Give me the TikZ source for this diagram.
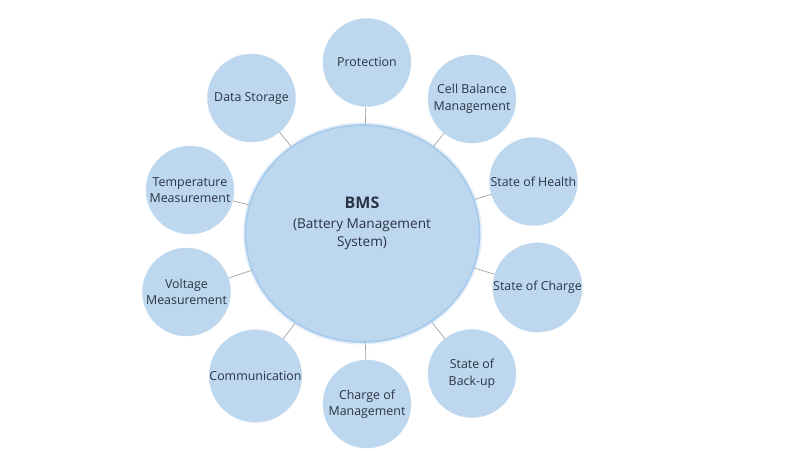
\documentclass[tikz,border=0pt]{standalone}
\usepackage{fontspec}
\setmainfont{Open Sans}
\usetikzlibrary{shapes.geometric}
\definecolor{fillblue}{HTML}{BDD7EE}
\definecolor{edgeblue}{HTML}{A6CAEC}
\definecolor{glowblue}{HTML}{E3EEF9}
\definecolor{txt}{HTML}{2B3445}
\definecolor{linegray}{HTML}{9A9A9A}
\tikzset{
  sat/.style={circle, fill=fillblue, draw=fillblue!90!white, line width=0.4pt, minimum size=88pt, inner sep=0pt,
    align=center, text=txt, font=\fontsize{12.4}{16.5}\selectfont},
  hub/.style={ellipse, fill=fillblue, draw=edgeblue, line width=1.6pt, minimum width=234pt, minimum height=217pt,
    inner sep=0pt, align=center, text=txt},
  link/.style={draw=linegray, line width=0.6pt}
}
\begin{document}
\begin{tikzpicture}[x=1pt,y=-1pt]
\useasboundingbox (0,0) rectangle (800,450);
\fill[white] (0,0) rectangle (800,450);
\fill[glowblue] (362.5,233.5) ellipse (119.5 and 111);
\node[hub] (c) at (362.5,233.5) {};
\node[text=txt, font=\fontsize{16}{18}\selectfont\bfseries] (t1) at (362,203) {BMS};
\node[text=txt, font=\fontsize{13.6}{18}\selectfont, align=center, anchor=north] (t2) at (362,215) {(Battery Management\\System)};
\node[sat] (p) at (367,62.5) {Protection};
\node[sat] (cb) at (472,99) {Cell Balance\\Management};
\node[sat] (sh) at (533.5,181.5) {State of Health};
\node[sat] (sc) at (537.5,287.5) {State of Charge};
\node[sat] (sb) at (472,373.5) {State of\\Back-up};
\node[sat] (cm) at (367,404) {Charge of\\Management};
\node[sat] (co) at (255.5,376) {Communication};
\node[sat] (vm) at (186.5,292) {Voltage\\Measurement};
\node[sat] (tm) at (190,190) {Temperature\\Measurement};
\node[sat] (ds) at (251.5,98) {Data Storage};
\foreach \s in {p,cb,sh,sc,sb,cm,co,vm,tm,ds}{
  \draw[link] (c) -- (\s);
}
\end{tikzpicture}
\end{document}
